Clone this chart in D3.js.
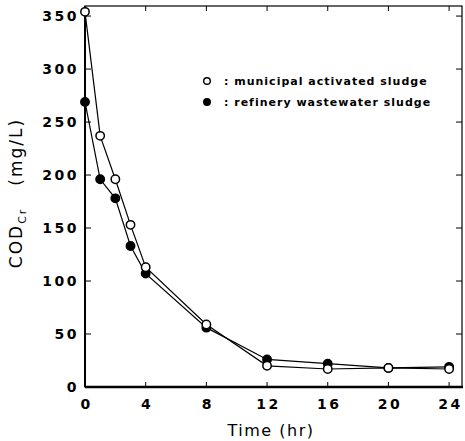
<!DOCTYPE html>
<html lang="en">
<head>
<meta charset="UTF-8">
<title>COD vs time</title>
<style>
  body { margin: 0; background: #fff; }
  svg { display: block; }
  text { font-family: "DejaVu Sans", sans-serif; fill: #000; }
  .tick-label { font-size: 14px; font-weight: bold; letter-spacing: 2.5px; }
  .legend { font-size: 11px; font-weight: bold; letter-spacing: 1px; }
  .axis-title { font-size: 16px; letter-spacing: 1.5px; }
  .y-title { font-size: 17px; letter-spacing: 2px; }
</style>
</head>
<body>
<svg id="chart" width="465" height="441"></svg>
<script src="https://d3js.org/d3.v7.min.js"></script>
<script>
const hours = [0, 1, 2, 3, 4, 8, 12, 16, 20, 24];
const municipal = [354, 237, 196, 153, 113, 59, 20, 17, 18, 17];
const refinery = [269, 196, 178, 133, 107, 56, 26, 22, 18, 19];
const xTicks = [0, 4, 8, 12, 16, 20, 24];
const yTicks = [0, 50, 100, 150, 200, 250, 300, 350];
const seriesNames = [": municipal activated sludge", ": refinery wastewater sludge"];

const svg = d3.select("#chart");
const plotL = 85, plotR = 462, plotT = 6, plotB = 387;

const x = d3.scaleLinear().domain([0, 24.85]).range([plotL, plotR]);
const y = d3.scaleLinear().domain([0, 359.5]).range([plotB, plotT]);

// frame
svg.append("rect")
  .attr("x", plotL).attr("y", plotT)
  .attr("width", plotR - plotL).attr("height", plotB - plotT)
  .attr("fill", "none").attr("stroke", "#000").attr("stroke-width", 1.2);
svg.append("line").attr("x1", plotL).attr("x2", plotR + 1).attr("y1", plotB).attr("y2", plotB)
  .attr("stroke", "#000").attr("stroke-width", 2.5);
svg.append("line").attr("x1", plotL).attr("x2", plotL).attr("y1", plotT).attr("y2", plotB)
  .attr("stroke", "#000").attr("stroke-width", 2);

// inward ticks
xTicks.forEach(t => {
  svg.append("line").attr("x1", x(t)).attr("x2", x(t)).attr("y1", plotB).attr("y2", plotB - 5).attr("stroke", "#000");
  svg.append("line").attr("x1", x(t)).attr("x2", x(t)).attr("y1", plotT).attr("y2", plotT + 5).attr("stroke", "#000");
  svg.append("text").attr("class", "tick-label")
    .attr("x", x(t) + 1.5).attr("y", plotB + 22).attr("text-anchor", "middle").text(t);
});
yTicks.forEach(t => {
  svg.append("line").attr("x1", plotL).attr("x2", plotL + 6).attr("y1", y(t)).attr("y2", y(t)).attr("stroke", "#000");
  svg.append("line").attr("x1", plotR).attr("x2", plotR - 6).attr("y1", y(t)).attr("y2", y(t)).attr("stroke", "#000");
  svg.append("text").attr("class", "tick-label")
    .attr("x", plotL - 6).attr("y", y(t) + 5).attr("text-anchor", "end").text(t);
});

// lines and markers
const line = d3.line().x((d, i) => x(hours[i])).y(d => y(d));
[refinery, municipal].forEach(vals => {
  svg.append("path").datum(vals).attr("d", line)
    .attr("fill", "none").attr("stroke", "#000").attr("stroke-width", 1.2);
});
[[refinery, "#000"], [municipal, "#fff"]].forEach(([vals, fill]) => {
  svg.append("g").selectAll("circle").data(vals).enter().append("circle")
    .attr("cx", (d, i) => x(hours[i])).attr("cy", d => y(d)).attr("r", 4.2)
    .attr("fill", fill).attr("stroke", "#000").attr("stroke-width", 1.5);
});

// legend
const legend = svg.append("g");
seriesNames.forEach((name, i) => {
  const ly = 81 + i * 21;
  legend.append("circle").attr("cx", 207).attr("cy", ly).attr("r", 3.3)
    .attr("fill", i === 0 ? "#fff" : "#000").attr("stroke", "#000").attr("stroke-width", 1.4);
  legend.append("text").attr("class", "legend").attr("x", 224).attr("y", ly + 4).text(name);
});

// axis titles
svg.append("text").attr("class", "axis-title")
  .attr("x", 271).attr("y", 436).attr("text-anchor", "middle").text("Time (hr)");
const yt = svg.append("text").attr("class", "y-title")
  .attr("transform", "translate(22,193) rotate(-90)").attr("text-anchor", "middle");
yt.append("tspan").text("COD");
yt.append("tspan").attr("font-size", "11px").attr("dy", 4).text("Cr");
yt.append("tspan").attr("dy", -4).attr("dx", 22).text("(mg/L)");
</script>
</body>
</html>
